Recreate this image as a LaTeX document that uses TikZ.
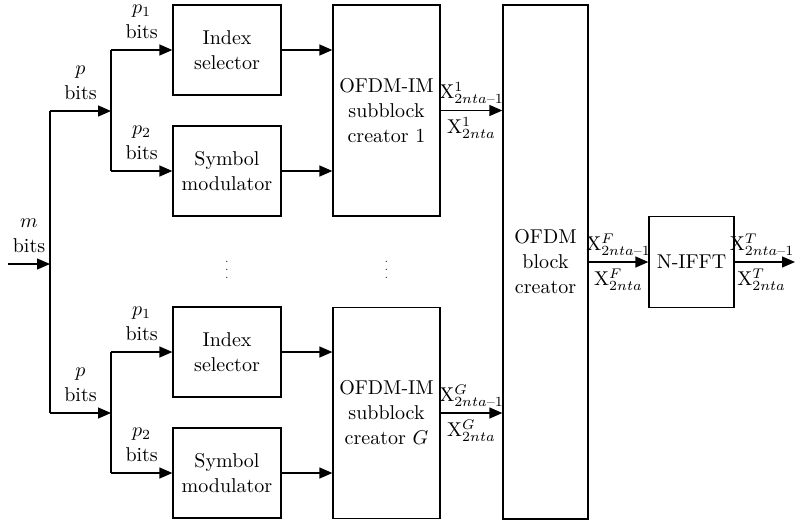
\documentclass[tikz,border=0pt]{standalone}
\usepackage{amsmath}
\usetikzlibrary{arrows.meta}

\tikzset{
  smallbox/.style={draw, align=center, minimum width=54pt, minimum height=45pt, inner sep=0pt},
  tallbox/.style={draw, align=center, minimum width=53.5pt, minimum height=105.5pt, inner sep=0pt},
  bitlabel/.style={align=center, inner sep=5.5pt},
  siglabel/.style={inner xsep=0pt, inner ysep=3pt}
}
% short dash in the sample indices
\newcommand{\sampm}[1]{\mathrm{X}^{#1}_{2nta\text{--}1}}
\newcommand{\samp}[1]{\mathrm{X}^{#1}_{2nta}}

\begin{document}
\begin{tikzpicture}[x=0.5pt, y=-0.5pt, line width=0.65pt,
    font=\fontsize{10}{12.5}\selectfont,
    >={Triangle[length=6.5pt,width=5.5pt]}]

\useasboundingbox (0,0) rectangle (795,524);

% -----------------------------
% Blocks
% -----------------------------
\node[smallbox] (idx1) at (227,50)  {Index\\selector};
\node[smallbox] (sym1) at (227,171) {Symbol\\modulator};
\node[smallbox] (idxG) at (227,352) {Index\\selector};
\node[smallbox] (symG) at (227,473) {Symbol\\modulator};

\node[tallbox] (sub1) at (386.5,110.5) {OFDM-IM\\subblock\\creator 1};
\node[tallbox] (subG) at (386.5,413)   {OFDM-IM\\subblock\\creator $G$};

\node[draw, align=center, minimum width=42.5pt, minimum height=257pt, inner sep=0pt]
    (blk) at (545.5,262) {OFDM\\block\\creator};
\node[draw, minimum width=42.5pt, minimum height=45.5pt, inner sep=0pt]
    (ifft) at (691.5,262) {N-IFFT};

% vertical dots between the two branches
\node[font=\tiny] (dots1) at (227,264)   {$\vdots$};
\node[font=\tiny] (dots2) at (386.5,264) {$\vdots$};

% -----------------------------
% Bit splitting
% -----------------------------
\coordinate (in)    at (8,264);
\coordinate (split) at (50,264);
\coordinate (top)   at (50,111);
\coordinate (bot)   at (50,413);
\coordinate (fork1) at (111,111);
\coordinate (forkG) at (111,413);
\coordinate (out)   at (795,262);

\draw[->] (in) -- (split) node[bitlabel, midway, above] (mbits) {$m$\\bits};
\draw (top) -- (bot);
\draw[->] (top) -- (fork1) node[bitlabel, midway, above] (pbits1) {$p$\\bits};
\draw[->] (bot) -- (forkG) node[bitlabel, midway, above] (pbitsG) {$p$\\bits};

\draw (fork1 |- idx1.west) -- (fork1 |- sym1.west);
\draw (forkG |- idxG.west) -- (forkG |- symG.west);
\draw[->] (fork1 |- idx1.west) -- (idx1.west) node[bitlabel, midway, above] (p1a) {$p_1$\\bits};
\draw[->] (fork1 |- sym1.west) -- (sym1.west) node[bitlabel, midway, above] (p2a) {$p_2$\\bits};
\draw[->] (forkG |- idxG.west) -- (idxG.west) node[bitlabel, midway, above] (p1b) {$p_1$\\bits};
\draw[->] (forkG |- symG.west) -- (symG.west) node[bitlabel, midway, above] (p2b) {$p_2$\\bits};

% -----------------------------
% Subblocks and output
% -----------------------------
\draw[->] (idx1) -- (idx1 -| sub1.west);
\draw[->] (sym1) -- (sym1 -| sub1.west);
\draw[->] (idxG) -- (idxG -| subG.west);
\draw[->] (symG) -- (symG -| subG.west);

\draw[->] (sub1) -- (sub1 -| blk.west)
    node[siglabel, midway, above] (x1a) {$\sampm{1}$}
    node[siglabel, midway, below] (x1b) {$\samp{1}$};
\draw[->] (subG) -- (subG -| blk.west)
    node[siglabel, midway, above] (xGa) {$\sampm{G}$}
    node[siglabel, midway, below] (xGb) {$\samp{G}$};
\draw[->] (blk.east |- ifft) -- (ifft)
    node[siglabel, midway, above] (xFa) {$\sampm{F}$}
    node[siglabel, midway, below] (xFb) {$\samp{F}$};
\draw[->] (ifft) -- (out)
    node[siglabel, pos=1, above left] (xTa) {$\sampm{T}$}
    node[siglabel, pos=0, below right, xshift=1pt] (xTb) {$\samp{T}$};

\end{tikzpicture}
\end{document}
